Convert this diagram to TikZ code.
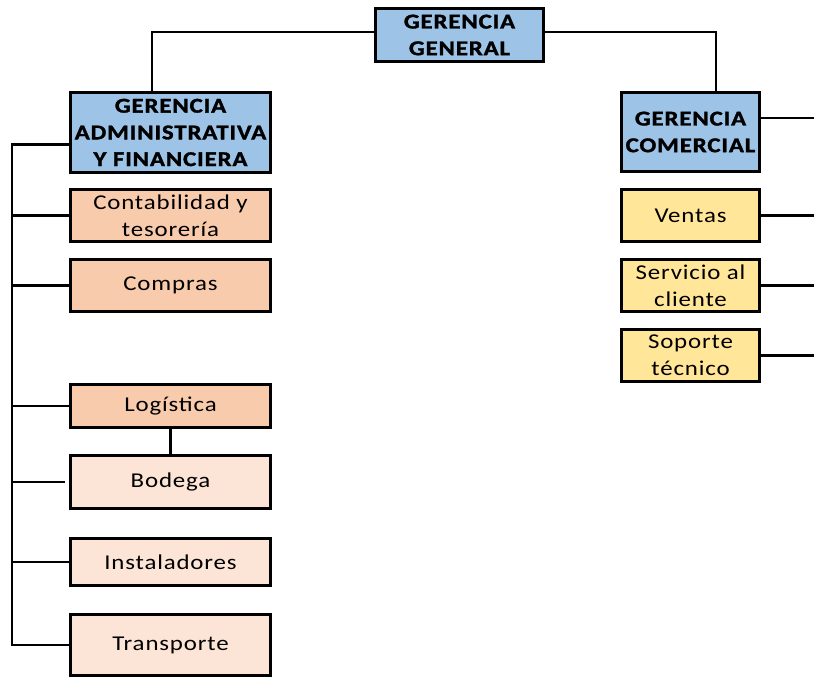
\documentclass[tikz,border=0pt]{standalone}
\usepackage{fontspec}
\setmainfont{Carlito}[FakeStretch=1.18, LetterSpace=4, BoldFeatures={FakeBold=1.5}]
\usepackage{tikz}
\usetikzlibrary{positioning,calc}

\definecolor{jefeazul}{RGB}{157,195,230}
\definecolor{areanaranja}{RGB}{248,203,173}
\definecolor{subrosa}{RGB}{252,228,214}
\definecolor{comamarillo}{RGB}{255,230,153}

\begin{document}
\begin{tikzpicture}[x=0.03cm, y=-0.03cm,
    caja/.style={draw, line width=3pt, align=center, inner sep=1pt,
                 font=\fontsize{18}{22.8}\selectfont},
    jefe/.style={caja, fill=jefeazul, font=\fontsize{18}{22.8}\selectfont\bfseries},
    area/.style={caja, fill=areanaranja, minimum width=6cm},
    sub/.style={caja, fill=subrosa, minimum width=6cm},
    com/.style={caja, fill=comamarillo, minimum width=4.14cm, minimum height=1.56cm},
    linea/.style={line width=2.3pt}
  ]
    \useasboundingbox (0,0) rectangle (814,679);

    % direccion
    \node[jefe, minimum width=5.04cm, minimum height=1.59cm] (gg) at (459.5,35) {GERENCIA\\GENERAL};

    % area administrativa
    \node[jefe, minimum width=6cm, minimum height=2.4cm] (gaf) at (170.5,132.5) {GERENCIA\\ADMINISTRATIVA\\Y FINANCIERA};
    \node[area, minimum height=1.56cm] (conta) at (170.5,215.5) {Contabilidad y\\tesorería};
    \node[area, minimum height=1.56cm] (compras) at (170.5,285.5) {Compras};
    \node[area, minimum height=1.29cm] (logis) at (170.5,406) {Logística};
    \node[sub, minimum height=1.59cm] (bodega) at (170.5,482) {Bodega};
    \node[sub, minimum height=1.41cm] (inst) at (170.5,562) {Instaladores};
    \node[sub, minimum height=1.83cm] (transp) at (170.5,645) {Transporte};

    % area comercial
    \node[jefe, minimum width=4.14cm, minimum height=2.37cm] (gc) at (690.5,132) {GERENCIA\\COMERCIAL};
    \node[com] (ventas) at (690.5,215.5) {Ventas};
    \node[com] (servicio) at (690.5,285.5) {Servicio al\\cliente};
    \node[com] (soporte) at (690.5,355.5) {Soporte\\técnico};

    \coordinate (bus) at (12,0);
    \coordinate (borde) at (814,0);

    % conectores
    \draw[linea] ([yshift=0.09cm]gg.west) -| ($(gaf.north)+(-18.5,0)$);
    \draw[linea] ([yshift=0.09cm]gg.east) -| ($(gc.north)+(25.5,0)$);
    \draw[linea] ([yshift=-0.37cm]gaf.west) -| (bus |- transp.west) -- (transp.west);
    \foreach \n in {conta,compras,logis,inst}
      \draw[linea] (\n.west) -- (\n.west -| bus);
    \draw[linea] (bodega.west -| bus) -- ([xshift=-0.12cm]bodega.west);
    \draw[linea] (logis.south) -- (bodega.north);
    \draw[linea] ([yshift=0.42cm]gc.east) -- ([yshift=0.42cm]gc.east -| borde);
    \foreach \n in {ventas,servicio,soporte}
      \draw[linea] (\n.east) -- (\n.east -| borde);
  \end{tikzpicture}
\end{document}
